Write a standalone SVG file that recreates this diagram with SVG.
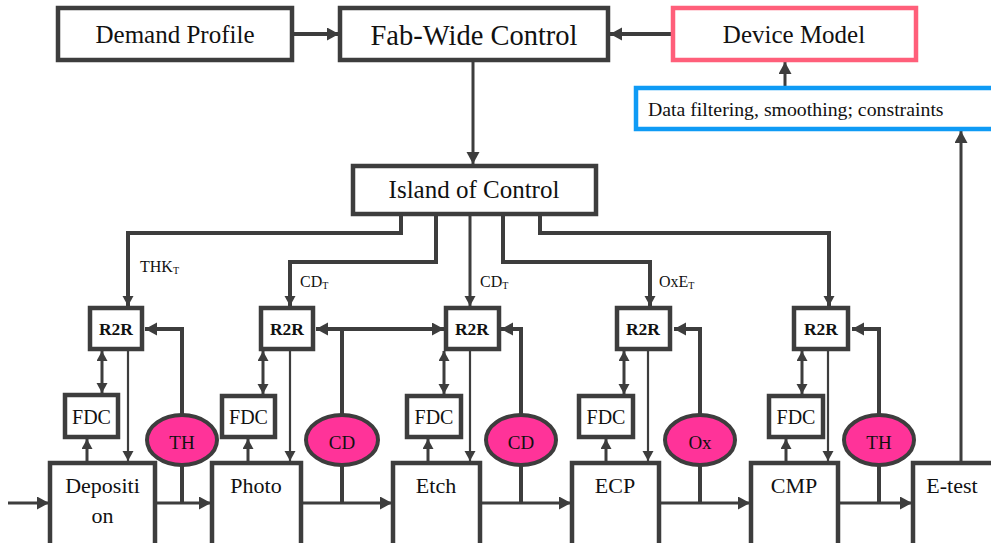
<svg xmlns="http://www.w3.org/2000/svg" width="991" height="543" viewBox="0 0 991 543" font-family="'Liberation Serif', 'Times New Roman', Times, serif">
  <style>
    text { font-family: "Liberation Serif", "Times New Roman", Times, serif; fill: #111; }
    .box { fill: #fff; stroke: #3d3d3d; stroke-width: 4.5; }
    .thin { fill: none; stroke: #3d3d3d; stroke-width: 2.2; }
    .mid { fill: none; stroke: #3d3d3d; stroke-width: 3; }
    .thick { fill: none; stroke: #3d3d3d; stroke-width: 4; }
    .meas { fill: #ff3399; stroke: #3d3d3d; stroke-width: 4; }
    .big { font-size: 25px; text-anchor: middle; }
    .proc { font-size: 22px; text-anchor: middle; }
    .fdc { font-size: 20px; text-anchor: middle; }
    .r2r { font-size: 17.5px; font-weight: bold; text-anchor: middle; }
    .ml { font-size: 19px; text-anchor: middle; }
    .lbl { font-size: 16px; }
    .sub { font-size: 10px; }
  </style>
  <defs>
    <marker id="ah" markerUnits="userSpaceOnUse" markerWidth="14" markerHeight="14" refX="12" refY="6.5" orient="auto-start-reverse">
      <path d="M0,0 L12,6.5 L0,13 z" fill="#3d3d3d"/>
    </marker>
    <marker id="as" markerUnits="userSpaceOnUse" markerWidth="12" markerHeight="12" refX="10" refY="5.5" orient="auto-start-reverse">
      <path d="M0,0 L10,5.5 L0,11 z" fill="#3d3d3d"/>
    </marker>
  </defs>

  <!-- connectors -->
  <g id="connectors">
    <!-- top level -->
    <line class="thick" x1="292" y1="34" x2="339" y2="34" marker-end="url(#ah)"/>
    <line class="thick" x1="673" y1="34" x2="610" y2="34" marker-end="url(#ah)"/>
    <line class="mid" x1="785" y1="88" x2="785" y2="62" marker-end="url(#ah)"/>
    <line class="mid" x1="961" y1="463" x2="961" y2="131" marker-end="url(#ah)"/>
    <line class="mid" x1="473" y1="60" x2="473" y2="164" marker-end="url(#ah)"/>

    <!-- island of control to R2R controllers -->
    <path class="thick" d="M401,214 V233 H128 V306" marker-end="url(#as)"/>
    <path class="thick" d="M436,214 V262 H290 V306" marker-end="url(#as)"/>
    <path class="mid" d="M470,214 V306" marker-end="url(#as)"/>
    <path class="thick" d="M503,214 V262 H650 V306" marker-end="url(#as)"/>
    <path class="thick" d="M540,214 V233 H829 V306" marker-end="url(#as)"/>

    <!-- R2R <-> FDC -->
    <line class="mid" x1="102" y1="351" x2="102" y2="393" marker-start="url(#as)" marker-end="url(#as)"/>
    <line class="mid" x1="263" y1="351" x2="263" y2="394" marker-start="url(#as)" marker-end="url(#as)"/>
    <line class="mid" x1="444" y1="351" x2="444" y2="394" marker-start="url(#as)" marker-end="url(#as)"/>
    <line class="mid" x1="624" y1="351" x2="624" y2="394" marker-start="url(#as)" marker-end="url(#as)"/>
    <line class="mid" x1="802" y1="351" x2="802" y2="394" marker-start="url(#as)" marker-end="url(#as)"/>

    <!-- R2R to process tool -->
    <line class="thin" x1="128" y1="349" x2="128" y2="461" marker-end="url(#as)"/>
    <line class="thin" x1="290" y1="349" x2="290" y2="461" marker-end="url(#as)"/>
    <line class="thin" x1="470" y1="349" x2="470" y2="461" marker-end="url(#as)"/>
    <line class="thin" x1="648" y1="349" x2="648" y2="461" marker-end="url(#as)"/>
    <line class="thin" x1="828" y1="349" x2="828" y2="461" marker-end="url(#as)"/>

    <!-- process tool to FDC -->
    <line class="mid" x1="87" y1="463" x2="87" y2="439" marker-end="url(#as)"/>
    <line class="mid" x1="248" y1="463" x2="248" y2="439" marker-end="url(#as)"/>
    <line class="mid" x1="428" y1="463" x2="428" y2="439" marker-end="url(#as)"/>
    <line class="mid" x1="606" y1="463" x2="606" y2="439" marker-end="url(#as)"/>
    <line class="mid" x1="786" y1="463" x2="786" y2="439" marker-end="url(#as)"/>

    <!-- metrology feedback to R2R -->
    <path class="thick" d="M182,503 V329 H145" marker-end="url(#ah)"/>
    <line class="thick" x1="342" y1="503" x2="342" y2="329"/>
    <line class="thick" x1="316" y1="329" x2="444" y2="329" marker-start="url(#ah)" marker-end="url(#ah)"/>
    <path class="thick" d="M521,503 V329 H501" marker-end="url(#ah)"/>
    <path class="thick" d="M700,503 V329 H674" marker-end="url(#ah)"/>
    <path class="thick" d="M879,503 V329 H852" marker-end="url(#ah)"/>

    <!-- wafer flow -->
    <line class="mid" x1="8" y1="503" x2="49" y2="503" marker-end="url(#ah)"/>
    <line class="mid" x1="155" y1="503" x2="211" y2="503" marker-end="url(#ah)"/>
    <line class="mid" x1="301" y1="503" x2="392" y2="503" marker-end="url(#ah)"/>
    <line class="mid" x1="480" y1="503" x2="571" y2="503" marker-end="url(#ah)"/>
    <line class="mid" x1="659" y1="503" x2="750" y2="503" marker-end="url(#ah)"/>
    <line class="mid" x1="838" y1="503" x2="912" y2="503" marker-end="url(#ah)"/>
  </g>

  <!-- target labels -->
  <g id="targets">
    <text class="lbl" x="140" y="272">THK<tspan class="sub" dy="2">T</tspan></text>
    <text class="lbl" x="300" y="287">CD<tspan class="sub" dy="2">T</tspan></text>
    <text class="lbl" x="480" y="287">CD<tspan class="sub" dy="2">T</tspan></text>
    <text class="lbl" x="659" y="287">OxE<tspan class="sub" dy="2">T</tspan></text>
  </g>

  <!-- top level nodes -->
  <g id="demand-profile">
    <rect class="box" x="58" y="8" width="234" height="52"/>
    <text class="big" x="175" y="43">Demand Profile</text>
  </g>
  <g id="fab-wide-control">
    <rect class="box" x="340" y="8" width="268" height="52"/>
    <text class="big" x="474" y="45" style="font-size:28.5px">Fab-Wide Control</text>
  </g>
  <g id="device-model">
    <rect class="box" x="673" y="8" width="243" height="52" style="stroke:#ff5f7a"/>
    <text class="big" x="794" y="43">Device Model</text>
  </g>
  <g id="data-filtering">
    <rect class="box" x="636" y="88" width="370" height="41" style="stroke:#0f9bf5"/>
    <text x="648" y="116" style="font-size:19.8px">Data filtering, smoothing; constraints</text>
  </g>
  <g id="island-of-control">
    <rect class="box" x="353" y="166" width="243" height="48"/>
    <text class="big" x="474" y="198">Island of Control</text>
  </g>

  <!-- R2R controllers -->
  <g id="r2r-1"><rect class="box" x="90" y="308" width="52" height="41"/><text class="r2r" x="116" y="335">R2R</text></g>
  <g id="r2r-2"><rect class="box" x="261" y="308" width="52" height="41"/><text class="r2r" x="287" y="335">R2R</text></g>
  <g id="r2r-3"><rect class="box" x="446" y="308" width="53" height="41"/><text class="r2r" x="472" y="335">R2R</text></g>
  <g id="r2r-4"><rect class="box" x="617" y="308" width="53" height="41"/><text class="r2r" x="643" y="335">R2R</text></g>
  <g id="r2r-5"><rect class="box" x="794" y="308" width="54" height="41"/><text class="r2r" x="821" y="335">R2R</text></g>

  <!-- FDC blocks -->
  <g id="fdc-1"><rect class="box" x="65" y="395" width="53" height="42"/><text class="fdc" x="91.5" y="424">FDC</text></g>
  <g id="fdc-2"><rect class="box" x="222" y="396" width="53" height="41"/><text class="fdc" x="248.5" y="424">FDC</text></g>
  <g id="fdc-3"><rect class="box" x="407" y="396" width="54" height="41"/><text class="fdc" x="434" y="424">FDC</text></g>
  <g id="fdc-4"><rect class="box" x="579" y="396" width="54" height="41"/><text class="fdc" x="606" y="424">FDC</text></g>
  <g id="fdc-5"><rect class="box" x="769" y="396" width="54" height="41"/><text class="fdc" x="796" y="424">FDC</text></g>

  <!-- metrology -->
  <g id="meas-th-1"><ellipse class="meas" cx="182" cy="440" rx="35" ry="25"/><text class="ml" x="182" y="449">TH</text></g>
  <g id="meas-cd-1"><ellipse class="meas" cx="342" cy="440" rx="36" ry="25"/><text class="ml" x="342" y="449">CD</text></g>
  <g id="meas-cd-2"><ellipse class="meas" cx="521" cy="440" rx="35" ry="25"/><text class="ml" x="521" y="449">CD</text></g>
  <g id="meas-ox"><ellipse class="meas" cx="700" cy="440" rx="35" ry="25"/><text class="ml" x="700" y="449">Ox</text></g>
  <g id="meas-th-2"><ellipse class="meas" cx="879" cy="440" rx="35" ry="25"/><text class="ml" x="879" y="449">TH</text></g>

  <!-- process tools -->
  <g id="deposition">
    <rect class="box" x="50" y="463" width="105" height="100"/>
    <text class="proc" x="102.5" y="493">Depositi</text>
    <text class="proc" x="102.5" y="523">on</text>
  </g>
  <g id="photo"><rect class="box" x="212" y="463" width="89" height="100"/><text class="proc" x="256" y="493">Photo</text></g>
  <g id="etch"><rect class="box" x="393" y="463" width="87" height="100"/><text class="proc" x="436" y="493">Etch</text></g>
  <g id="ecp"><rect class="box" x="572" y="463" width="87" height="100"/><text class="proc" x="615" y="493">ECP</text></g>
  <g id="cmp"><rect class="box" x="751" y="463" width="87" height="100"/><text class="proc" x="794" y="493">CMP</text></g>
  <g id="e-test"><rect class="box" x="913" y="463" width="100" height="100"/><text class="proc" x="952" y="493">E-test</text></g>
</svg>
